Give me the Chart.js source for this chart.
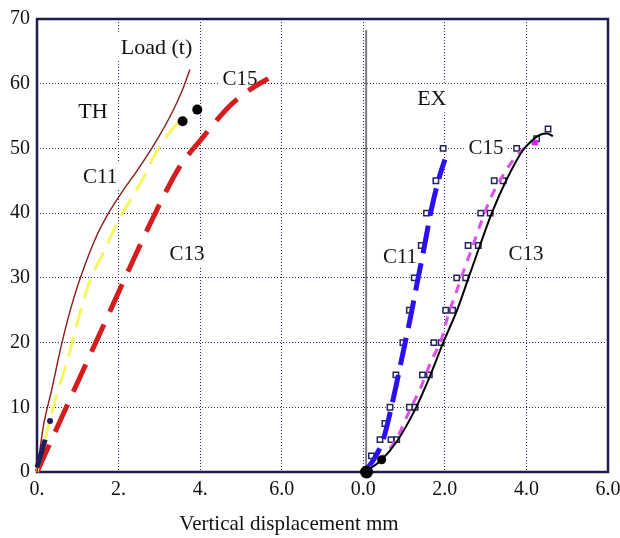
<!DOCTYPE html>
<html>
<head>
<meta charset="utf-8">
<script src="https://cdn.jsdelivr.net/npm/chart.js@4.4.1/dist/chart.umd.min.js"></script>
<style>
html, body { margin: 0; padding: 0; background: #fff; }
#wrap { width: 620px; height: 538px; }
</style>
</head>
<body>
<div id="wrap"><canvas id="load"></canvas></div>
<script>
// x axis is shared: TH panel on 0..6, EX panel starts at 8
const xTickLabels = ['0.', '2.', '4.', '6.0', '0.0', '2.0', '4.0', '6.0'];
const exOffset = 8;

// TH (theory) curves
const thSolidX = [0, 0.154, 0.36, 0.605, 0.88, 1.20, 1.50, 1.79, 2.1, 2.5, 2.9, 3.3, 3.55, 3.75];
const thSolidY = [0, 7.0, 12.7, 19.8, 26.4, 32.4, 37.0, 40.4, 43.4, 47.0, 50.9, 55.4, 58.8, 62.2];
const thYellowX = [0, 0.42, 0.77, 1.05, 1.30, 1.62, 1.99, 2.28, 2.61, 2.85, 3.10, 3.40, 3.57];
const thYellowY = [0, 10.5, 17.8, 24.5, 29.6, 33.8, 38.8, 41.9, 45.5, 48.6, 51.1, 53.6, 54.2];
const thRedX = [0, 0.56, 1.05, 1.6, 2.29, 2.93, 3.50, 4.0, 4.73, 5.20, 5.67];
const thRedY = [0, 7.8, 14.6, 22.2, 31.8, 40.4, 47.2, 51.2, 56.6, 59.0, 60.8];
const thDotX = [3.57, 3.93];
const thDotY = [54.2, 56.0];
const thStartX = [0, 0.2];
const thStartY = [0.7, 5.0];
const thMarkX = [0.32];
const thMarkY = [7.9];

// EX (experiment) curves, displacement measured from the EX zero
const exBlueX = [0.04, 0.29, 0.49, 0.655, 0.80, 0.98, 1.16, 1.32, 1.49, 1.66, 1.84, 2.0];
const exBlueY = [0, 2.3, 5.0, 9.1, 13.2, 18.6, 24.0, 29.2, 34.6, 40.3, 45.0, 48.3];
const exMagentaX = [0.04, 0.49, 0.82, 1.10, 1.43, 1.64, 1.92, 2.08, 2.29, 2.49, 2.70, 2.90, 3.15, 3.43, 3.70, 4.00, 4.21];
const exMagentaY = [0, 2.4, 5.2, 9.0, 13.4, 16.8, 20.6, 24.2, 28.0, 31.6, 35.2, 38.8, 42.7, 45.9, 48.4, 50.3, 50.9];
const exBlackX = [0.04, 0.45, 0.83, 1.25, 1.62, 1.96, 2.30, 2.58, 2.86, 3.15, 3.50, 3.90, 4.13, 4.37, 4.50, 4.65];
const exBlackY = [0, 1.9, 4.8, 9.4, 14.6, 20.0, 25.0, 30.0, 35.0, 40.0, 45.0, 49.6, 51.2, 52.2, 52.3, 51.9];
const exC11Disp = [0.20, 0.41, 0.53, 0.655, 0.80, 0.97, 1.13, 1.25, 1.42, 1.55, 1.78, 1.96];
const exC11Load = [2.5, 5, 7.5, 10, 15, 20, 25, 30, 35, 40, 45, 50];
const exC15Disp = [0.68, 1.13, 1.45, 1.73, 2.02, 2.29, 2.57, 2.88, 3.21, 3.76];
const exC15Load = [5, 10, 15, 20, 25, 30, 35, 40, 45, 50];
const exC13Disp = [0.82, 1.27, 1.62, 1.91, 2.19, 2.51, 2.82, 3.11, 3.43, 4.25, 4.53];
const exC13Load = [5, 10, 15, 20, 25, 30, 35, 40, 45, 51.5, 53];
const exDotX = [0.08, 0.45];
const exDotY = [0, 1.9];
const exZeroX = [0.07, 0.07];
const exZeroY = [0, 68.3];

// text notes placed in data units
const notes = [
  { text: 'Load (t)', x: 2.93, y: 65.6, size: 22 },
  { text: 'TH', x: 1.37, y: 55.7, size: 22 },
  { text: 'C11', x: 1.55, y: 45.7, size: 21 },
  { text: 'C13', x: 3.68, y: 33.7, size: 21 },
  { text: 'C15', x: 4.98, y: 60.8, size: 21 },
  { text: 'EX', x: 9.68, y: 57.7, size: 22 },
  { text: 'C15', x: 11.01, y: 50.2, size: 21 },
  { text: 'C11', x: 8.90, y: 33.3, size: 21 },
  { text: 'C13', x: 11.99, y: 33.7, size: 21 }
];

function pts(xs, ys, off) {
  return xs.map((x, i) => ({ x: x + (off || 0), y: ys[i] }));
}

const serif = '"Liberation Serif", "Times New Roman", serif';

function line(data, color, width, dash) {
  return {
    data: data, showLine: true, borderColor: color, borderWidth: width, borderDash: dash || [],
    borderCapStyle: 'butt', pointRadius: 0, cubicInterpolationMode: 'monotone',
    clip: false, fill: false
  };
}
function marks(data, style, r, bg, border, bw) {
  return {
    data: data, showLine: false, pointStyle: style, pointRadius: r,
    backgroundColor: bg, borderColor: border, borderWidth: bw, clip: false
  };
}

const magenta = line(pts(exMagentaX, exMagentaY, exOffset), '#e04ef0', 3, [9, 8]);
magenta.pointRadius = exMagentaX.map((x, i) => i === exMagentaX.length - 1 ? 4 : 0);
magenta.pointStyle = 'rect';
magenta.pointBackgroundColor = '#d81ee8';
magenta.pointBorderWidth = 0;

const datasets = [
  marks(pts(thDotX, thDotY), 'circle', 5, '#000', '#000', 0),
  marks(pts(exDotX, exDotY, exOffset), 'circle', [6.5, 4.5], '#000', '#000', 0),
  marks(pts(thMarkX, thMarkY), 'circle', 3, '#1e1e5a', '#1e1e5a', 0),
  line(pts(thStartX, thStartY), '#1e1e5a', 5),
  line(pts(thSolidX, thSolidY), '#8b1a1a', 1.4),
  line(pts(thYellowX, thYellowY), '#f6f65e', 3, [20, 10]),
  line(pts(thRedX, thRedY), '#d61c1c', 5, [30, 14]),
  line(pts(exBlackX, exBlackY, exOffset), '#000', 2),
  magenta,
  line(pts(exBlueX, exBlueY, exOffset), '#2a10f2', 5, [28, 10]),
  marks(pts(exC11Disp, exC11Load, exOffset), 'rect', 3.8, '#fff', '#25255e', 1.5),
  marks(pts(exC15Disp, exC15Load, exOffset), 'rect', 3.8, '#fff', '#25255e', 1.5),
  marks(pts(exC13Disp, exC13Load, exOffset), 'rect', 3.8, '#fff', '#25255e', 1.5),
  line(pts(exZeroX, exZeroY, exOffset), '#7a7a7a', 2)
];

const decor = {
  id: 'decor',
  beforeDatasetsDraw(chart) {
    const { ctx, chartArea: a, scales } = chart;
    ctx.save();
    // frame
    ctx.strokeStyle = '#1c1c50';
    ctx.lineWidth = 2.5;
    ctx.strokeRect(a.left, a.top, a.right - a.left, a.bottom - a.top);
    // notes with white boxes that break the grid
    ctx.textAlign = 'center';
    ctx.textBaseline = 'middle';
    notes.forEach(n => {
      ctx.font = n.size + 'px ' + serif;
      const px = scales.x.getPixelForValue(n.x);
      const py = scales.y.getPixelForValue(n.y);
      const w = ctx.measureText(n.text).width;
      ctx.fillStyle = '#fff';
      ctx.fillRect(px - w / 2 - 3, py - n.size * 0.62, w + 6, n.size * 1.24);
      ctx.fillStyle = '#111';
      ctx.fillText(n.text, px, py + 1);
    });
    // axis title
    ctx.font = '21px ' + serif;
    ctx.fillText('Vertical displacement mm', 289, 524);
    ctx.restore();
  }
};

new Chart(document.getElementById('load'), {
  type: 'scatter',
  data: { datasets: datasets },
  options: {
    responsive: true,
    maintainAspectRatio: false,
    animation: false,
    layout: { padding: { top: 17, right: 12, bottom: 0, left: 0 } },
    plugins: { legend: { display: false }, tooltip: { enabled: false } },
    scales: {
      x: {
        type: 'linear', min: 0, max: 14,
        afterFit(s) { s.height = 66; s.paddingLeft = 0; s.paddingRight = 0; },
        ticks: {
          stepSize: 2, padding: 6, color: '#111',
          font: { family: serif, size: 20 },
          callback: v => xTickLabels[v / 2]
        },
        grid: {
          color: ctx => (ctx.tick && (ctx.tick.value === 0 || ctx.tick.value === 14)) ? 'rgba(0,0,0,0)' : '#26266a',
          lineWidth: 1, drawTicks: false
        },
        border: { display: false, dash: [1, 2] }
      },
      y: {
        type: 'linear', min: 0, max: 70,
        afterFit(s) { s.width = 37; },
        ticks: {
          stepSize: 10, padding: 7, color: '#111',
          font: { family: serif, size: 20 }
        },
        grid: {
          color: ctx => (ctx.tick && (ctx.tick.value === 0 || ctx.tick.value === 70)) ? 'rgba(0,0,0,0)' : '#26266a',
          lineWidth: 1, drawTicks: false
        },
        border: { display: false, dash: [1, 2] }
      }
    }
  },
  plugins: [decor]
});
</script>
</body>
</html>
